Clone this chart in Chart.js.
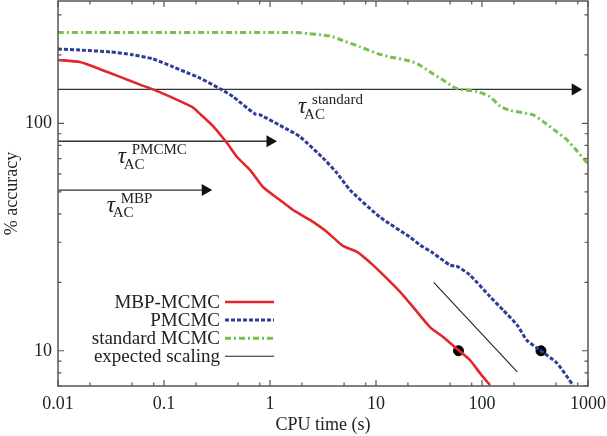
<!DOCTYPE html>
<html>
<head>
<meta charset="utf-8">
<script src="https://cdn.jsdelivr.net/npm/chart.js@4/dist/chart.umd.min.js"></script>
<style>
  html, body { margin: 0; padding: 0; background: #fff; }
</style>
</head>
<body>
<canvas id="myC" width="607" height="436"></canvas>
<script>
// MBP-MCMC (red)
const mbpTime = [0.01, 0.0161, 0.0249, 0.0385, 0.0594, 0.0787, 0.114, 0.184, 0.219, 0.29, 0.393, 0.489, 0.647, 0.859, 1.24, 1.65, 2.38, 3.45, 4.88, 6.62, 9.37, 13.5, 16.8, 22.3, 32.3, 42.9, 59.4, 77.1, 95.7, 119];
const mbpAcc = [190, 186, 173, 160, 148, 141, 131, 118, 110, 97.3, 81.9, 71.1, 62.4, 52.5, 46.0, 41.6, 37.6, 33.3, 28.9, 27.2, 23.8, 20.2, 18.2, 15.6, 12.7, 11.5, 10.1, 9.1, 7.97, 7.06];

// PMCMC (blue)
const pmTime = [0.01, 0.0161, 0.031, 0.051, 0.0787, 0.122, 0.176, 0.219, 0.337, 0.448, 0.721, 0.805, 1.4, 1.92, 3.30, 4.29, 5.69, 10.9, 20.9, 26.0, 34.5, 49.9, 59.4, 77.1, 119, 158, 214, 266, 352, 510, 722];
const pmAcc = [212, 210, 206, 200, 192, 177, 165, 158, 142, 131, 110, 109, 95, 87.3, 69.0, 60.4, 50.9, 38.7, 31.6, 29.2, 26.9, 23.8, 23.4, 21.5, 17.3, 15.1, 13.0, 11.1, 10.07, 8.82, 7.06];

// standard MCMC (green)
const stdTime = [0.01, 1.65, 1.92, 3.68, 4.88, 7.06, 10.2, 13.5, 20.9, 26.0, 34.5, 42.9, 58.1, 89.7, 119, 148, 184, 303, 376, 510, 634, 788, 1000];
const stdAcc = [251, 251, 250, 242, 231, 217, 203, 196, 188, 180, 165, 155, 142, 138, 131, 119, 114, 109, 102, 91.6, 84.5, 75.6, 66.2];

// expected scaling (t^-1/2)
const scaleTime = [35, 215];
const scaleAcc = [20, 8.07];

// marked points at 10% accuracy
const dotTime = [60, 360];
const dotAcc = [10, 10];

// autocorrelation time arrows
const arrowNames = ['standard', 'PMCMC', 'MBP'];
const arrowAcc = [141, 83.4, 50.9];
const arrowEnd = [757, 1.0, 0.245];
// label anchor (tau) for each arrow
const tauTime = [1.84, 0.0366, 0.0288];
const tauAcc = [111, 66.7, 40.8];

const xTickLabels = ['0.01', '0.1', '1', '10', '100', '1000'];
const yTickLabels = ['10', '100'];

const legendNames = ['MBP-MCMC', 'PMCMC', 'standard MCMC', 'expected scaling'];

const RED = '#e2262b';
const BLUE = '#2d3d98';
const GREEN = '#76c14e';
const INK = '#222';
const SERIF = '"Liberation Serif", "DejaVu Serif", serif';

const pts = (xs, ys) => xs.map((x, i) => ({ x: x, y: ys[i] }));

const datasets = [
  { label: legendNames[0], data: pts(mbpTime, mbpAcc), borderColor: RED, borderWidth: 2.6, tension: 0.2, pointRadius: 0 },
  { label: legendNames[1], data: pts(pmTime, pmAcc), borderColor: BLUE, borderWidth: 3, borderDash: [4, 2], tension: 0.2, pointRadius: 0 },
  { label: legendNames[2], data: pts(stdTime, stdAcc), borderColor: GREEN, borderWidth: 3, borderDash: [6, 3, 2, 3], tension: 0.2, pointRadius: 0 },
  { label: legendNames[3], data: pts(scaleTime, scaleAcc), borderColor: INK, borderWidth: 1.1, pointRadius: 0 },
  { label: 'dots', data: pts(dotTime, dotAcc), showLine: false, pointRadius: 5, pointBackgroundColor: '#000', pointBorderColor: '#000' }
];

arrowNames.forEach((n, i) => {
  datasets.push({
    label: 'arrow ' + n,
    data: [{ x: 0.01, y: arrowAcc[i] }, { x: arrowEnd[i], y: arrowAcc[i] }],
    borderColor: '#333',
    borderWidth: 1.3,
    pointStyle: 'triangle',
    rotation: 90,
    pointRadius: [0, 7],
    pointBackgroundColor: '#111',
    pointBorderColor: '#111',
    pointBorderWidth: 0,
    clip: false
  });
});

const isDecade = v => {
  const l = Math.log10(v);
  return Math.abs(l - Math.round(l)) < 1e-9;
};

// frame, inward ticks, tau labels and legend
const decor = {
  id: 'decor',
  afterDatasetsDraw(chart) {
    const { ctx, chartArea: a, scales: { x, y } } = chart;
    ctx.save();

    // tau labels
    arrowNames.forEach((n, i) => {
      const px = x.getPixelForValue(tauTime[i]);
      const py = y.getPixelForValue(tauAcc[i]);
      ctx.fillStyle = INK;
      ctx.textBaseline = 'alphabetic';
      ctx.textAlign = 'left';
      ctx.font = 'italic 23px ' + SERIF;
      ctx.fillText('\u03C4', px, py);
      ctx.font = '15px ' + SERIF;
      ctx.fillText(n, px + 14, py - 9);
      ctx.fillText('AC', px + 6, py + 5.5);
    });

    // legend
    const styles = datasets.slice(0, 4);
    const textRight = a.left + 162;
    const lineL = a.left + 167;
    const lineR = a.left + 216;
    const rowTop = a.top + 301;
    const rowStep = 18.1;
    ctx.font = '19px ' + SERIF;
    ctx.textAlign = 'right';
    ctx.textBaseline = 'middle';
    styles.forEach((d, i) => {
      const ry = rowTop + i * rowStep;
      ctx.fillStyle = INK;
      ctx.fillText(d.label, textRight, ry + 1);
      ctx.beginPath();
      ctx.strokeStyle = d.borderColor;
      ctx.lineWidth = d.borderWidth;
      ctx.setLineDash(d.borderDash || []);
      ctx.moveTo(lineL, ry);
      ctx.lineTo(lineR, ry);
      ctx.stroke();
    });
    ctx.setLineDash([]);

    // frame
    ctx.strokeStyle = '#555';
    ctx.lineWidth = 1.5;
    ctx.strokeRect(a.left, a.top, a.right - a.left, a.bottom - a.top);

    // inward ticks
    ctx.lineWidth = 1.2;
    ctx.beginPath();
    for (let e = -2; e <= 3; e++) {
      [1, 2, 5, 8].forEach(k => {
        const v = k * Math.pow(10, e);
        if (v < x.min - 1e-12 || v > x.max + 1e-9) return;
        const px = x.getPixelForValue(v);
        const len = k === 1 ? 6 : 3.5;
        ctx.moveTo(px, a.bottom); ctx.lineTo(px, a.bottom - len);
        ctx.moveTo(px, a.top); ctx.lineTo(px, a.top + len);
      });
    }
    for (let e = 0; e <= 2; e++) {
      for (let k = 1; k <= 9; k++) {
        const v = k * Math.pow(10, e);
        if (v < y.min || v > y.max) continue;
        const py = y.getPixelForValue(v);
        const len = k === 1 ? 6 : 3.5;
        ctx.moveTo(a.left, py); ctx.lineTo(a.left + len, py);
        ctx.moveTo(a.right, py); ctx.lineTo(a.right - len, py);
      }
    }
    ctx.stroke();
    ctx.restore();
  }
};

const ctx = document.querySelector('#myC').getContext('2d');

const chart = new Chart(ctx, {
  type: 'line',
  data: { datasets: datasets },
  options: {
    responsive: false,
    animation: false,
    devicePixelRatio: 1,
    layout: { autoPadding: false, padding: { top: 1, right: 19, left: 0, bottom: 0 } },
    scales: {
      x: {
        type: 'logarithmic',
        min: 0.01,
        max: 1000,
        afterFit: s => { s.height = 50; s.paddingLeft = 0; s.paddingRight = 0; },
        grid: { display: false, drawTicks: false },
        border: { display: false },
        ticks: {
          autoSkip: false,
          maxRotation: 0,
          padding: 7,
          color: INK,
          font: { family: SERIF, size: 18 },
          callback: v => {
            if (!isDecade(v)) return '';
            const lbl = xTickLabels[Math.round(Math.log10(v)) + 2];
            return lbl === undefined ? '' : lbl;
          }
        },
        title: {
          display: true,
          text: 'CPU time (s)',
          color: INK,
          padding: { top: 0, bottom: 0 },
          font: { family: SERIF, size: 18 }
        }
      },
      y: {
        type: 'logarithmic',
        min: 7,
        max: 345,
        afterFit: s => { s.width = 58; s.paddingTop = 0; s.paddingBottom = 0; },
        grid: { display: false, drawTicks: false },
        border: { display: false },
        ticks: {
          autoSkip: false,
          padding: 6,
          color: INK,
          font: { family: SERIF, size: 18 },
          callback: v => {
            if (!isDecade(v)) return '';
            const lbl = yTickLabels[Math.round(Math.log10(v)) - 1];
            return lbl === undefined ? '' : lbl;
          }
        },
        title: {
          display: true,
          text: '% accuracy',
          color: INK,
          padding: { top: 1, bottom: 0 },
          font: { family: SERIF, size: 18 }
        }
      }
    },
    plugins: {
      legend: { display: false },
      tooltip: { enabled: false }
    }
  },
  plugins: [decor]
});
</script>
</body>
</html>
